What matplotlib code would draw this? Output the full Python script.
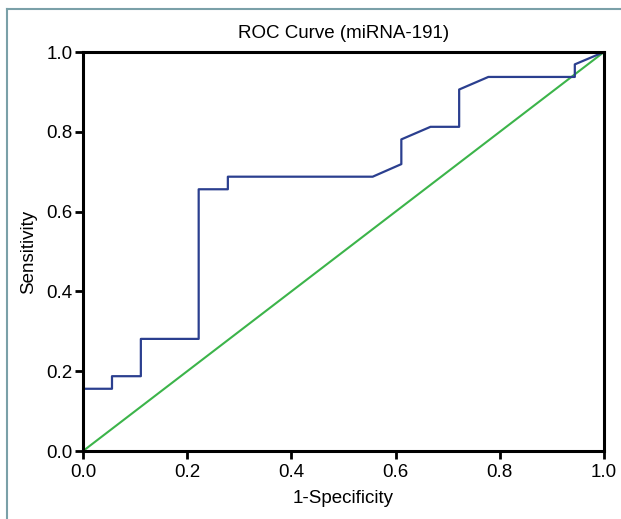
# ROC curve for miRNA-191
import numpy as np
import matplotlib
matplotlib.use("Agg")
import matplotlib.pyplot as plt
from matplotlib.lines import Line2D

plt.rcParams['font.family'] = ['Liberation Sans', 'DejaVu Sans']

# ROC points (1-specificity, sensitivity)
fpr = [0.0, 0.0, 0.0556, 0.0556, 0.111, 0.111, 0.222, 0.222, 0.278, 0.278,
       0.556, 0.611, 0.611, 0.667, 0.722, 0.722, 0.778, 0.944, 0.944, 1.0]
tpr = [0.0, 0.156, 0.156, 0.1875, 0.1875, 0.281, 0.281, 0.656, 0.656, 0.6875,
       0.6875, 0.719, 0.781, 0.8125, 0.8125, 0.906, 0.9375, 0.9375, 0.969, 1.0]
ref_line = [0.0, 1.0]
ticks = [0.0, 0.2, 0.4, 0.6, 0.8, 1.0]

fig = plt.figure(figsize=(6.21, 5.19), dpi=100)
ax = fig.add_axes([0.1337, 0.131, 0.8389, 0.7688])

ax.plot(ref_line, ref_line, color='#3cb44a', lw=1.5, zorder=2)
ax.plot(fpr, tpr, color='#2b3f8f', lw=1.6, zorder=3)

ax.set_xlim(0, 1)
ax.set_ylim(0, 1)
ax.set_xticks(ticks)
ax.set_yticks(ticks)
ax.set_xticklabels([f"{t:.1f}" for t in ticks])
ax.set_yticklabels([f"{t:.1f}" for t in ticks])
ax.tick_params(direction='out', length=6, width=2, labelsize=13.5, pad=1.5)
ax.tick_params(axis='x', pad=3)
for s in ax.spines.values():
    s.set_linewidth(2.2)
    s.set_zorder(4)

ax.set_title("ROC Curve (miRNA-191)", fontsize=13.5, pad=10)
ax.set_xlabel("1-Specificity", fontsize=13.5, labelpad=7)
ax.set_ylabel("Sensitivity", fontsize=13.5, labelpad=7)

# frame of the figure panel
fig.add_artist(Line2D([6.5 / 621, 6.5 / 621], [0, 1 - 8.5 / 519], color='#7aa0a8', lw=1.5,
                      transform=fig.transFigure))
fig.add_artist(Line2D([6.5 / 621, 1], [1 - 8.5 / 519, 1 - 8.5 / 519], color='#7aa0a8', lw=1.5,
                      transform=fig.transFigure))

plt.savefig("out.png", dpi=100)
